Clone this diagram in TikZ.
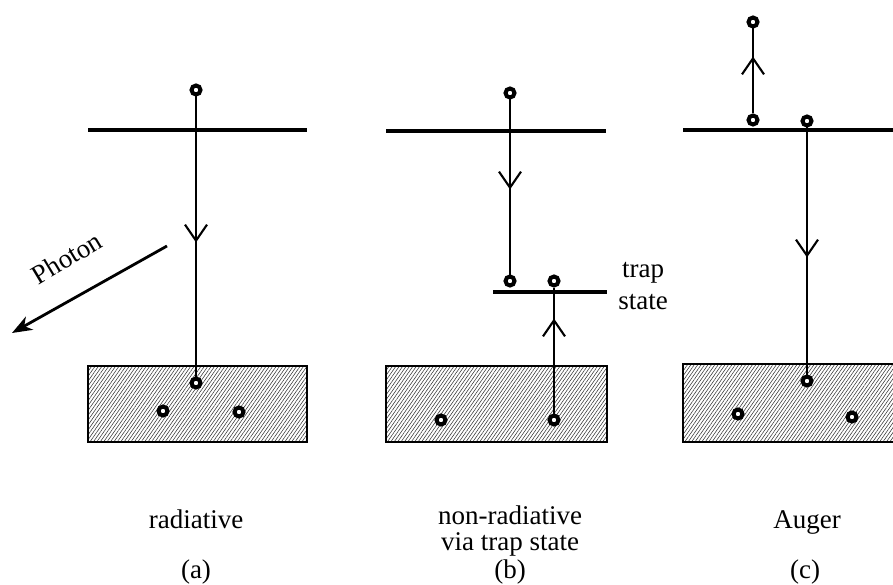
\documentclass[tikz,border=0pt]{standalone}
\usepackage{fontspec}
\setmainfont{Liberation Serif}
\usetikzlibrary{arrows.meta,patterns.meta,decorations.markings}

\tikzset{
  level/.style={line width=3.2pt},
  band/.style={draw, line width=1.8pt, rectangle, inner sep=0pt,
    pattern={Lines[angle=55,distance=2.8pt,line width=0.55pt]}, pattern color=black!80},
  electron/.style={circle, draw, fill=white, line width=4pt, inner sep=0pt, minimum size=9pt},
  hop/.style={line width=2.3pt},
  midbarb/.style={postaction={decorate, decoration={markings,
    mark=at position #1 with {\arrow{Straight Barb[length=16pt,width=22pt,line width=2.1pt]}}}}},
  lbl/.style={font=\fontsize{27}{26}\selectfont, align=center, inner sep=0pt, anchor=base},
}

\begin{document}
\begin{tikzpicture}[x=1pt,y=-1pt]
\clip (0,0) rectangle (893,585);

% valence bands
\node[band, minimum width=219pt, minimum height=76pt] (bandA) at (197.5,404) {};
\node[band, minimum width=221pt, minimum height=76pt] (bandB) at (496.5,404) {};
\node[band, minimum width=220pt, minimum height=78pt] (bandC) at (793,403) {};

% conduction band edges and trap level
\draw[level] (88,130) -- (307,130);
\draw[level] (386,131) -- (606,131);
\draw[level] (493,292) -- (607,292);
\draw[level] (683,130) -- (900,130);

% electrons
\node[electron] (a1) at (196,90) {};
\node[electron] (a2) at (196,383) {};
\node[electron] (a3) at (163,411) {};
\node[electron] (a4) at (239,412) {};

\node[electron] (b1) at (510,93) {};
\node[electron] (b2) at (510,281) {};
\node[electron] (b3) at (554,281) {};
\node[electron] (b4) at (441,420) {};
\node[electron] (b5) at (554,420) {};

\node[electron] (c1) at (753,22) {};
\node[electron] (c2) at (753,120) {};
\node[electron] (c3) at (807,121) {};
\node[electron] (c4) at (807,381) {};
\node[electron] (c5) at (738,414) {};
\node[electron] (c6) at (852,417) {};

% transitions
\draw[hop, midbarb=146pt] (a1) -- (a2);
\draw[hop, midbarb=90pt] (b1) -- (b2);
\draw[hop, midbarb=95pt] (b5) -- (b3);
\draw[hop, midbarb=57pt] (c2) -- (c1);
\draw[hop, midbarb=130pt] (c3) -- (c4);

% emitted photon
\coordinate (ph0) at (167,246);
\coordinate (ph1) at (12,333);
\draw[line width=2.8pt, -{Stealth[length=20pt,width=15pt,inset=6pt]}] (ph0) -- (ph1);
\node[lbl, anchor=center, rotate=31] (photon) at (67,258) {Photon};

% labels (multi-line nodes sit on the baseline of their last line)
\node[lbl] (trap) at (643,309) {trap\\[6pt]state};
\node[lbl] (capA) at (196,528) {radiative};
\node[lbl] (capB) at (510,550) {non-radiative\\via trap state};
\node[lbl] (capC) at (807,528) {Auger};
\node[lbl] (tagA) at (196,578) {(a)};
\node[lbl] (tagB) at (510,578) {(b)};
\node[lbl] (tagC) at (805,578) {(c)};
\end{tikzpicture}
\end{document}
